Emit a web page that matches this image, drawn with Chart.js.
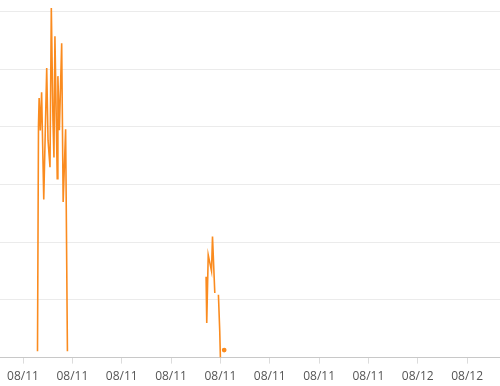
<!DOCTYPE html>
<html>
<head>
<meta charset="utf-8">
<script src="https://cdn.jsdelivr.net/npm/chart.js@4"></script>
<style>
  body { margin: 0; background: #fff; }
</style>
</head>
<body>
<canvas id="myChart" width="500" height="386"></canvas>
<script>
// hours since 08/11 00:00, null value = gap in the line
const hours = [0.88, 0.94, 0.98, 1.05, 1.13, 1.26, 1.44, 1.52, 1.64, 1.72, 1.82, 1.88, 1.94, 2.08, 2.12, 2.21, 2.35, 2.44, 2.59, 2.70,
  6.0,
  11.13, 11.17, 11.26, 11.46, 11.52, 11.66,
  11.77,
  11.88, 11.96, 12.0,
  12.1,
  12.23];
const values = [0.11, 4.03, 4.50, 3.94, 4.60, 2.74, 5.02, 3.77, 3.30, 6.06, 4.11, 3.47, 5.57, 3.10, 4.88, 3.94, 5.45, 2.70, 3.96, 0.11,
  null,
  1.40, 0.60, 1.78, 1.50, 2.10, 1.12,
  null,
  1.09, 0.46, 0,
  null,
  0.13];

const tickLabels = ['08/11', '08/11', '08/11', '08/11', '08/11', '08/11', '08/11', '08/11', '08/12', '08/12'];

const points = hours.map((h, i) => ({ x: h, y: values[i] }));

// a value with gaps on both sides is drawn as a dot
const isolated = (i) => values[i] !== null &&
  (i === 0 || values[i - 1] === null) &&
  (i === values.length - 1 || values[i + 1] === null);

Chart.defaults.font.family = "'Open Sans', sans-serif";
Chart.defaults.font.size = 12;
Chart.defaults.color = '#555';

const ctx = document.getElementById('myChart').getContext('2d');

const myChart = new Chart(ctx, {
  type: 'line',
  data: {
    datasets: [{
      data: points,
      borderColor: '#fa8b1f',
      backgroundColor: '#fa8b1f',
      borderWidth: 1.6,
      tension: 0,
      spanGaps: false,
      pointRadius: (c) => isolated(c.dataIndex) ? 1.6 : 0,
      pointHoverRadius: 0
    }]
  },
  options: {
    responsive: false,
    animation: false,
    layout: { autoPadding: false, padding: { top: 0, left: 0, right: 0, bottom: -4 } },
    plugins: {
      legend: { display: false },
      tooltip: { enabled: false }
    },
    scales: {
      x: {
        type: 'linear',
        min: -1.4,
        max: 29.0,
        grid: {
          drawOnChartArea: false,
          tickLength: 6,
          color: '#dcdcdc'
        },
        border: { color: '#c8c8c8', width: 1 },
        ticks: {
          stepSize: 3,
          includeBounds: false,
          autoSkip: false,
          maxRotation: 0,
          padding: 6,
          callback: (v) => tickLabels[Math.round(v / 3)]
        }
      },
      y: {
        min: 0,
        max: 6.2,
        grid: {
          drawTicks: false,
          color: '#ebebeb'
        },
        border: { display: false },
        ticks: {
          display: false,
          stepSize: 1,
          includeBounds: false
        }
      }
    }
  }
});
</script>
</body>
</html>
